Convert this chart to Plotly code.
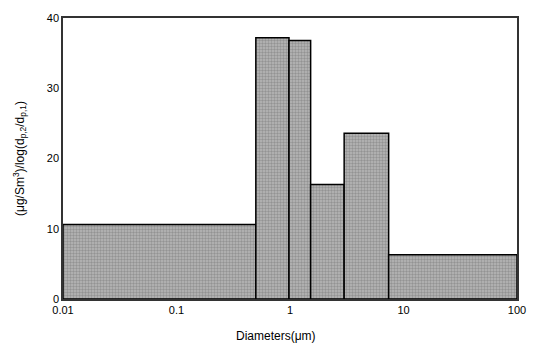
import plotly.graph_objects as go

# Bin edges (µm) and heights
edges = [0.01, 0.5, 0.98, 1.52, 3.0, 7.4, 100]
values = [10.6, 37.2, 36.8, 16.3, 23.6, 6.3]

x_ticks = [0.01, 0.1, 1, 10, 100]
x_tick_labels = ["0.01", "0.1", "1", "10", "100"]
y_ticks = [0, 10, 20, 30, 40]

fig = go.Figure()
for i, v in enumerate(values):
    x0, x1 = edges[i], edges[i + 1]
    fig.add_trace(go.Scatter(
        x=[x0, x0, x1, x1, x0],
        y=[0, v, v, 0, 0],
        mode="lines",
        fill="toself",
        fillcolor="#a0a0a0",
        fillpattern=dict(shape=".", bgcolor="#b8b8b8", fgcolor="#6e6e6e",
                         size=3, solidity=0.5),
        line=dict(color="black", width=1.5),
        showlegend=False,
        hoverinfo="skip",
    ))

font = "Liberation Sans, Arial, sans-serif"
axis_common = dict(showgrid=False, zeroline=False, showline=True, linecolor="#333",
                   linewidth=1.5, mirror=True, ticks="",
                   tickfont=dict(size=11, color="black", family=font))
fig.update_layout(
    width=538, height=343,
    margin=dict(l=63, r=19, t=15, b=44),
    paper_bgcolor="white", plot_bgcolor="white",
    font=dict(family=font, size=11, color="black"),
    xaxis=dict(type="log", range=[-2, 2], tickvals=x_ticks, ticktext=x_tick_labels,
               **axis_common),
    yaxis=dict(range=[0, 40], tickvals=y_ticks,
               title=dict(text="(μg/Sm<sup>3</sup>)/log(d<sub>p,2</sub>/d<sub>p,1</sub>)",
                          font=dict(size=12, color="black", family=font), standoff=20),
               **axis_common),
    annotations=[dict(text="Diameters(μm)", x=0.469, y=-0.098, xref="paper", yref="paper",
                      xanchor="center", yanchor="top", showarrow=False,
                      font=dict(size=12, color="black", family=font))],
)

fig.write_html("out.html", config={"displayModeBar": False},
               post_script="document.body.style.margin='0';document.body.style.overflow='hidden';")
